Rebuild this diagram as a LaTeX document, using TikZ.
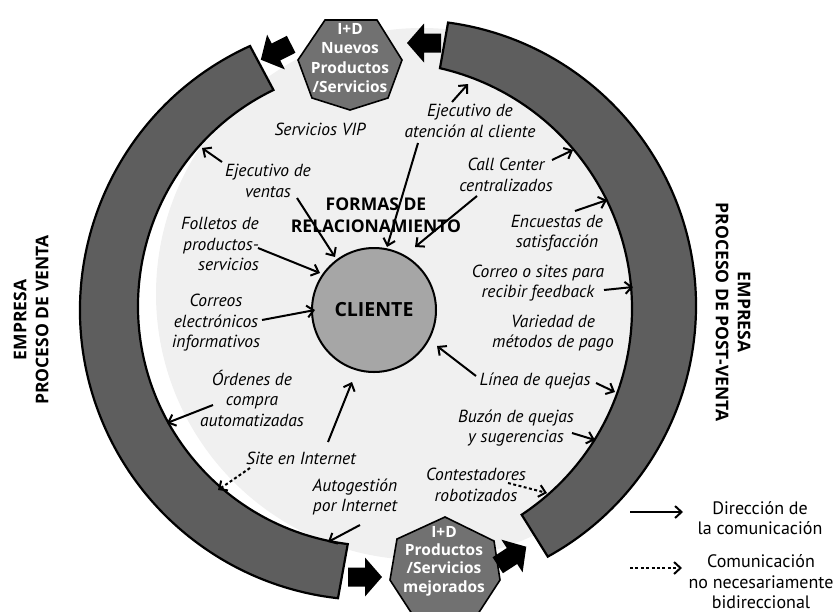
\documentclass[tikz,border=0pt]{standalone}
\usepackage{fontspec}
\setmainfont{PT Sans}
\newfontfamily\headfont{Open Sans}
\usetikzlibrary{arrows.meta}
\definecolor{bandgray}{HTML}{5E5E5E}
\definecolor{heptgray}{HTML}{717171}
\definecolor{diskgray}{HTML}{F0F0F0}
\definecolor{clientgray}{HTML}{A6A6A6}
\newcommand\blockarrow[3]{%
  \fill[black, shift={(#1,#2)}, rotate=#3]
    (-17,-9.5) -- (0,-9.5) -- (0,-19.5) -- (17,0) -- (0,19.5) -- (0,9.5) -- (-17,9.5) -- cycle;}
\begin{document}
\begin{tikzpicture}[x=1pt, y=-1pt,
  band/.style={fill=bandgray, draw=black, line width=2.2pt},
  hept/.style={fill=heptgray, draw=black, line width=1.6pt},
  hepttext/.style={text=white, font=\headfont\bfseries\fontsize{15.5}{19.5}\selectfont, align=center, inner sep=0pt},
  lab/.style={font=\itshape\fontsize{17.5}{20.5}\selectfont, align=center, inner sep=0pt},
  side/.style={font=\headfont\bfseries\fontsize{17.5}{22}\selectfont, align=center, inner sep=0pt},
  legend/.style={font=\fontsize{18}{20.5}\selectfont, align=center, inner sep=0pt},
  arr/.style={line width=2pt, -{Straight Barb[length=6.5pt,width=12pt]}},
  dotarr/.style={arr, dash pattern=on 3pt off 2.4pt}]
\useasboundingbox (0,0) rectangle (836,611);

% background disk
\fill[diskgray] (422,294) circle[radius=266];

% left band: sales process
\draw[band] ([shift={(370,310)}]245.56:290) arc[start angle=245.56, end angle=96.34, radius=290]
  -- ([shift={(378,306)}]97.24:240) arc[start angle=97.24, end angle=244.18, radius=240] -- cycle;
% right band: post-sales process
\draw[band] ([shift={(410,306)}]-82.35:286) arc[start angle=-82.35, end angle=61.2, radius=286]
  -- ([shift={(385,309)}]56.4:247) arc[start angle=56.4, end angle=-77.14, radius=247] -- cycle;

% R&D heptagons
\draw[hept] (325,20) -- (377,20) -- (402,60) -- (388,98) -- (350,110) -- (312,98) -- (298,60) -- cycle;
\node[hepttext] (rdtop) at (350,58) {I+D\\Nuevos\\Productos\\/Servicios};
\draw[hept] (445,517) -- (494,541) -- (500,580) -- (474,620) -- (416,620) -- (390,580) -- (397,539) -- cycle;
\node[hepttext, font=\headfont\bfseries\fontsize{15.5}{18.3}\selectfont] (rdbot) at (444,561) {I+D\\Productos\\/Servicios\\mejorados};

% flow arrows around the cycle
\blockarrow{424}{43}{180}
\blockarrow{276}{52}{207}
\blockarrow{365}{577}{0}
\blockarrow{512}{556}{33}

% client
\node[draw, line width=2pt, fill=clientgray, circle, minimum size=124pt, inner sep=0pt,
      font=\headfont\bfseries\fontsize{19.5}{20}\selectfont] (cli) at (374,310) {CLIENTE};
\node[font=\headfont\bfseries\fontsize{17.5}{22}\selectfont, align=center, inner sep=0pt] (formas) at (376,215) {FORMAS DE\\RELACIONAMIENTO};

% side captions
\node[side, rotate=90] (venta) at (31,320) {EMPRESA\\PROCESO DE VENTA};
\node[side, rotate=-90] (postventa) at (733,312) {EMPRESA\\PROCESO DE POST-VENTA};

% labels
\node[lab] (vip) at (320,129) {Servicios VIP};
\node[lab] (ejv) at (268,181) {Ejecutivo de\\ventas};
\node[lab, align=right, anchor=east] (fol) at (259,244) {Folletos de\\productos-\\servicios};
\node[lab] (cor) at (216,323) {Correos\\electrónicos\\informativos};
\node[lab] (ord) at (252,398) {Órdenes de\\compra\\automatizadas};
\node[lab] (site) at (301,458) {Site en Internet};
\node[lab] (auto) at (355,497) {Autogestión\\por Internet};
\node[lab] (eja) at (470,121) {Ejecutivo de\\atención al cliente};
\node[lab] (call) at (506,175) {Call Center\\centralizados};
\node[lab] (enc) at (557,233) {Encuestas de\\satisfacción};
\node[lab] (corr) at (538,283) {Correo o sites para\\recibir feedback};
\node[lab] (var) at (553,333) {Variedad de\\métodos de pago};
\node[lab] (lin) at (535,381) {Línea de quejas};
\node[lab] (buz) at (516,428) {Buzón de quejas\\y sugerencias};
\node[lab] (cont) at (476,485) {Contestadores\\robotizados};

% arrow end points
\coordinate (ejvA) at (222,162);  \coordinate (bandL1) at (202,148);
\coordinate (ejvB) at (297,198);  \coordinate (cliA) at (335,257);
\coordinate (folA) at (258,248);  \coordinate (cliB) at (320,273);
\coordinate (corA) at (262,320);  \coordinate (cliC) at (315,310);
\coordinate (ordA) at (213,405);  \coordinate (bandL2) at (167,423);
\coordinate (siteA) at (250,468); \coordinate (bandL3) at (218,490);
\coordinate (siteB) at (328,442); \coordinate (cliD) at (352,382);
\coordinate (autoA) at (360,525); \coordinate (bandL4) at (328,542);
\coordinate (ejaA) at (452,102);  \coordinate (bandR1) at (468,84);
\coordinate (ejaB) at (418,143);  \coordinate (cliE) at (387,247);
\coordinate (callA) at (552,160); \coordinate (bandR2) at (573,150);
\coordinate (callB) at (477,196); \coordinate (cliF) at (415,247);
\coordinate (encA) at (575,211);  \coordinate (bandR3) at (607,200);
\coordinate (corrA) at (604,290); \coordinate (bandR4) at (633,287);
\coordinate (linA) at (476,376);  \coordinate (cliG) at (437,346);
\coordinate (linB) at (596,383);  \coordinate (bandR5) at (615,392);
\coordinate (buzA) at (572,433);  \coordinate (bandR6) at (595,440);
\coordinate (contA) at (508,483); \coordinate (bandR7) at (547,493);

\draw[arr] (ejvA) -- (bandL1);
\draw[arr] (ejvB) -- (cliA);
\draw[arr] (folA) -- (cliB);
\draw[arr] (corA) -- (cliC);
\draw[arr] (ordA) -- (bandL2);
\draw[dotarr] (siteA) -- (bandL3);
\draw[arr] (siteB) -- (cliD);
\draw[arr] (autoA) -- (bandL4);
\draw[arr] (ejaA) -- (bandR1);
\draw[arr] (ejaB) -- (cliE);
\draw[arr] (callA) -- (bandR2);
\draw[arr] (callB) -- (cliF);
\draw[arr] (encA) -- (bandR3);
\draw[arr] (corrA) -- (bandR4);
\draw[arr] (linA) -- (cliG);
\draw[arr] (linB) -- (bandR5);
\draw[arr] (buzA) -- (bandR6);
\draw[dotarr] (contA) -- (bandR7);

% legend
\coordinate (lgA1) at (630,512); \coordinate (lgA2) at (683,512);
\coordinate (lgB1) at (630,568); \coordinate (lgB2) at (682,568);
\draw[arr] (lgA1) -- (lgA2);
\draw[dotarr] (lgB1) -- (lgB2);
\node[legend] (lgtA) at (760,518) {Dirección de\\la comunicación};
\node[legend] (lgtB) at (761,582) {Comunicación\\no necesariamente\\bidireccional};
\end{tikzpicture}
\end{document}
